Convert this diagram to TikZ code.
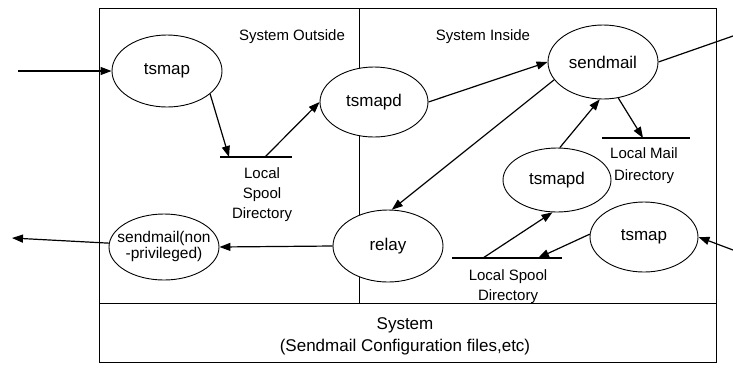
\documentclass[tikz,border=0pt]{standalone}
\usepackage{fontspec}
\setmainfont{Liberation Sans}
\usetikzlibrary{shapes.geometric,arrows.meta}
\begin{document}
\begin{tikzpicture}[x=1pt,y=-1pt,
  proc/.style={draw,fill=white,ellipse,inner sep=0pt,line width=0.9pt,font=\fontsize{17}{19}\selectfont},
  flow/.style={line width=1.2pt,-{Triangle[length=11pt,width=8pt]}},
  lbl/.style={font=\fontsize{15}{20}\selectfont,align=center,inner sep=0pt},
  store/.style={line width=1.2pt},
  frame/.style={line width=0.9pt}]
\useasboundingbox (0,0) rectangle (733,368);
% frame
\draw[frame] (99,8) rectangle (716,362);
\draw[frame] (99,303) -- (716,303);
\draw[frame] (359,8) -- (359,303);
% processes
\node[proc,minimum width=110pt,minimum height=72pt] (tsmapA) at (167,71) {tsmap};
\node[proc,minimum width=108pt,minimum height=70pt] (tsmapdA) at (374,102) {tsmapd};
\node[proc,minimum width=110pt,minimum height=74pt] (sendmail) at (603,62) {sendmail};
\node[proc,minimum width=110pt,minimum height=72pt] (relay) at (388,246) {relay};
\node[proc,minimum width=110pt,minimum height=66pt,font=\fontsize{15.5}{15}\selectfont] (snp) at (164,247) {\makebox[0pt]{\begin{tabular}{@{}c@{}}sendmail(non\\-privileged)\end{tabular}}};
\node[proc,minimum width=108pt,minimum height=64pt] (tsmapdB) at (557,180) {tsmapd};
\node[proc,minimum width=108pt,minimum height=70pt] (tsmapB) at (644,237) {tsmap};
% labels
\node[lbl] (outside) at (292,37) {System Outside};
\node[lbl] (inside) at (483,37) {System Inside};
\node[lbl] (spoolAtxt) at (262,195) {Local\\Spool\\Directory};
\node[lbl,font=\fontsize{15}{22}\selectfont] (mailtxt) at (644,166) {Local Mail\\Directory};
\node[lbl] (spoolBtxt) at (508,287) {Local Spool\\Directory};
\node[font=\fontsize{17}{22}\selectfont,align=center,inner sep=0pt] (system) at (405,336) {System\\(Sendmail Configuration files,etc)};
% stores
\coordinate (sAl) at (220,157); \coordinate (sAr) at (292,157);
\coordinate (sAin) at (229,157); \coordinate (sAout) at (265,157);
\coordinate (mL) at (602,138); \coordinate (mR) at (690,138); \coordinate (mIn) at (643,138);
\coordinate (sBl) at (452,258); \coordinate (sBr) at (562,258);
\coordinate (sBin) at (538,258); \coordinate (sBout) at (483,258);
\draw[store] (sAl) -- (sAr);
\draw[store] (mL) -- (mR);
\draw[store] (sBl) -- (sBr);
% free ends
\coordinate (inL) at (18,71);
\coordinate (outL) at (12,238);
\coordinate (outR) at (733,36);
\coordinate (inR) at (733,250);
% flows
\draw[flow] (inL) -- (tsmapA.west);
\draw[flow] (tsmapA.-28) -- (sAin);
\draw[flow] (sAout) -- (tsmapdA.west);
\draw[flow] (tsmapdA.east) -- (sendmail.west);
\draw[flow] (sendmail.200) -- (relay.84);
\draw[flow] (tsmapdB.85) -- (sendmail.265);
\draw[flow] (sendmail.-67) -- (mIn);
\draw[line width=1.2pt] (sendmail.east) -- (outR);
\draw[flow] (relay.west) -- (snp.east);
\draw[flow] (snp.176) -- (outL);
\draw[flow] (tsmapB.177) -- (sBin);
\draw[flow] (sBout) -- (tsmapdB.262);
\draw[flow] (inR) -- (tsmapB.east);
\end{tikzpicture}
\end{document}
